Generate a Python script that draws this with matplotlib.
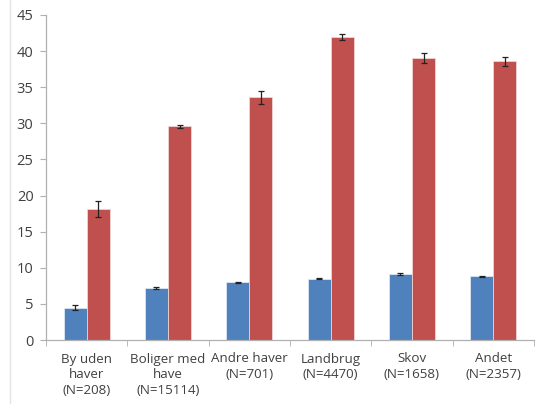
import numpy as np
import matplotlib.pyplot as plt
from matplotlib.lines import Line2D

# data
categories = ['By uden\nhaver\n(N=208)', 'Boliger med\nhave\n(N=15114)', 'Andre haver\n(N=701)',
              'Landbrug\n(N=4470)', 'Skov\n(N=1658)', 'Andet\n(N=2357)']
blue_vals = [4.5, 7.2, 8.0, 8.5, 9.1, 8.8]
blue_err = [0.3, 0.1, 0.1, 0.1, 0.15, 0.12]
red_vals = [18.1, 29.6, 33.6, 42.0, 39.1, 38.6]
red_err = [1.1, 0.2, 0.9, 0.4, 0.7, 0.6]
yticks = [0, 5, 10, 15, 20, 25, 30, 35, 40, 45]

plt.rcParams['font.family'] = ['Open Sans', 'DejaVu Sans']

fig = plt.figure(figsize=(5.38, 4.04), dpi=100)
ax = fig.add_axes([46/538, 64/404, 488/538, 325/404])

x = np.arange(len(categories))
w = 0.284
ekw = dict(ecolor='#222222', elinewidth=0.9, capsize=2.5, capthick=0.9)
ax.bar(x - w/2, blue_vals, w, yerr=blue_err, color='#4F81BD', edgecolor='#e6edf6', linewidth=0.5, error_kw=ekw)
ax.bar(x + w/2, red_vals, w, yerr=red_err, color='#C0504D', edgecolor='#f4dcdb', linewidth=0.5, error_kw=ekw)

ax.set_xlim(-0.5, len(categories) - 0.5)
ax.set_ylim(0, 45)
ax.set_yticks(yticks)
ax.set_xticks(x)
ax.set_xticklabels(categories, fontsize=9.6, color='#404040', linespacing=1.25)
ax.set_xticks(np.arange(len(categories) + 1) - 0.5, minor=True)
ax.tick_params(axis='x', which='major', length=0, pad=9)
ax.tick_params(axis='x', which='minor', length=4, color='#b0b0b0')
ax.tick_params(axis='y', length=4, color='#b0b0b0', labelsize=10.5, labelcolor='#404040', pad=5)

for s in ['top', 'right']:
    ax.spines[s].set_visible(False)
for s in ['left', 'bottom']:
    ax.spines[s].set_color('#b0b0b0')
    ax.spines[s].set_linewidth(0.9)

# faint frame line at the left edge of the picture
fig.add_artist(Line2D([10/538, 10/538], [0, 1], transform=fig.transFigure, color='#e4e4e4', lw=1))

plt.savefig('out.png', dpi=100)
